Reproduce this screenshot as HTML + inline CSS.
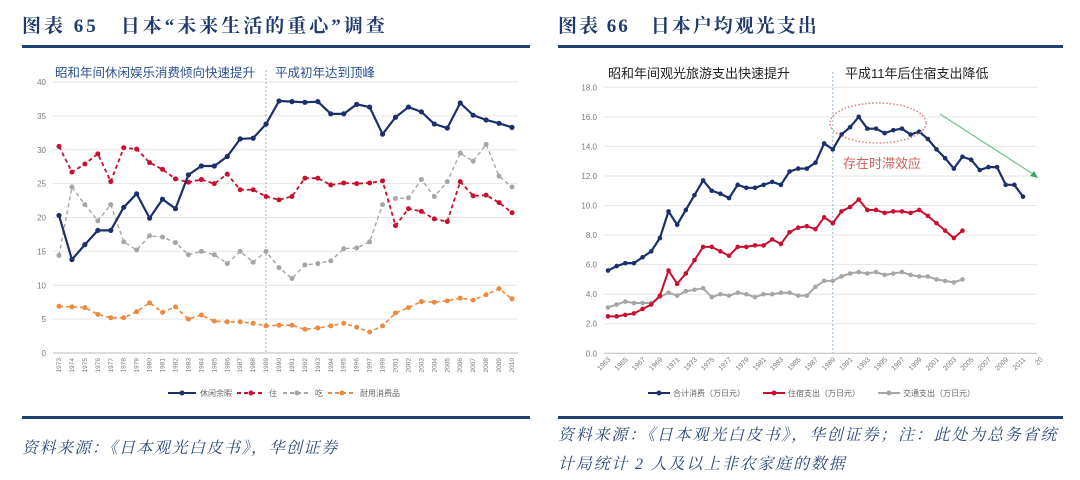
<!DOCTYPE html>
<html><head><meta charset="utf-8"><style>
body{margin:0;width:1080px;height:480px;background:#fff;overflow:hidden;font-family:"Liberation Serif","Noto Serif CJK SC",serif}
svg{position:absolute;left:0;top:0}
</style></head><body>
<svg id="s" width="1080" height="480" xmlns="http://www.w3.org/2000/svg">
<text x="22" y="32" font-size="19" font-weight="bold" fill="#1f3a6e" letter-spacing="3" font-family="Liberation Serif,Noto Serif CJK SC,serif">图表 65　日本“未来生活的重心”调查</text>
<text x="558" y="32" font-size="19" font-weight="bold" fill="#1f3a6e" letter-spacing="2" font-family="Liberation Serif,Noto Serif CJK SC,serif">图表 66　日本户均观光支出</text>
<rect x="22" y="45" width="508" height="3" fill="#1f3f74"/>
<rect x="558" y="45" width="505" height="3" fill="#1f3f74"/>
<rect x="22" y="416" width="508" height="3" fill="#1f3f74"/>
<rect x="558" y="416" width="505" height="3" fill="#1f3f74"/>
<text x="22" y="453" font-size="16" font-style="italic" fill="#2c4a7c" letter-spacing="1.5">资料来源：《日本观光白皮书》，华创证券</text>
<text x="558" y="440" font-size="16" font-style="italic" fill="#2c4a7c" letter-spacing="1.8">资料来源：《日本观光白皮书》，华创证券；注：此处为总务省统</text>
<text x="558" y="469" font-size="16" font-style="italic" fill="#2c4a7c" letter-spacing="1.8">计局统计 2 人及以上非农家庭的数据</text>
<g id="L"></g>
<g id="R"></g>
</svg>
<script>
const leftYears=["1973","1974","1975","1976","1977","1978","1979","1980","1981","1982","1983","1984","1985","1986","1987","1988","1989","1990","1991","1992","1993","1994","1995","1996","1997","1999","2001","2002","2003","2004","2005","2006","2007","2008","2009","2010"];
const leisure=[20.3,13.8,16,18.1,18.1,21.5,23.5,19.9,22.7,21.3,26.3,27.6,27.6,29,31.6,31.7,33.8,37.2,37.1,37,37.1,35.3,35.3,36.7,36.3,32.3,34.8,36.3,35.6,33.8,33.2,36.9,35.1,34.4,33.9,33.3];
const housing=[30.5,26.7,27.9,29.4,25.3,30.3,30.1,28.1,27.1,25.7,25.2,25.6,25,26.4,24.1,24.1,23.1,22.6,23.1,25.8,25.8,24.8,25.1,25,25.1,25.4,18.8,21.3,20.9,19.8,19.4,25.3,23.2,23.3,22.2,20.7];
const food=[14.4,24.5,21.9,19.5,21.9,16.4,15.2,17.3,17.1,16.3,14.5,15,14.5,13.2,15,13.4,15,12.6,11,13,13.2,13.6,15.4,15.5,16.4,21.9,22.8,22.9,25.6,23.1,25.3,29.5,28.3,30.8,26.1,24.5];
const durables=[6.9,6.8,6.7,5.7,5.2,5.2,6.1,7.4,6,6.8,5,5.6,4.7,4.6,4.6,4.4,4,4.1,4.1,3.5,3.7,4,4.4,3.8,3.1,4,5.9,6.7,7.6,7.5,7.7,8.1,7.8,8.6,9.5,8];
const leftTicks=[0,5,10,15,20,25,30,35,40];
const rightStart=1963;
const total=[5.6,5.9,6.1,6.1,6.5,6.9,7.8,9.6,8.7,9.7,10.7,11.7,11.0,10.8,10.5,11.4,11.2,11.2,11.4,11.6,11.4,12.3,12.5,12.5,12.9,14.2,13.8,14.8,15.3,16.0,15.2,15.2,14.9,15.1,15.2,14.8,15.0,14.5,13.8,13.2,12.5,13.3,13.1,12.4,12.6,12.6,11.4,11.4,10.6];
const lodging=[2.5,2.5,2.6,2.7,3.0,3.3,3.9,5.6,4.7,5.4,6.3,7.2,7.2,6.9,6.6,7.2,7.2,7.3,7.3,7.7,7.4,8.2,8.5,8.6,8.4,9.2,8.8,9.6,9.9,10.4,9.7,9.7,9.5,9.6,9.6,9.5,9.7,9.3,8.8,8.3,7.8,8.3];
const transport=[3.1,3.3,3.5,3.4,3.4,3.4,3.8,4.1,3.9,4.2,4.3,4.4,3.8,4.0,3.9,4.1,4.0,3.8,4.0,4.0,4.1,4.1,3.9,3.9,4.5,4.9,4.9,5.2,5.4,5.5,5.4,5.5,5.3,5.4,5.5,5.3,5.2,5.2,5.0,4.9,4.8,5.0];
const rightTicks=[0,2,4,6,8,10,12,14,16,18];

const NS="http://www.w3.org/2000/svg";
function mk(p,t,a){const e=document.createElementNS(NS,t);for(const k in a)e.setAttribute(k,a[k]);p.appendChild(e);return e;}
const SF="Liberation Sans, Noto Sans CJK SC, sans-serif";

// LEFT
const L=document.getElementById('L');
const lx=i=>59+i*(512-59)/(leftYears.length-1);
const ly=v=>353-v*(353-82)/40;
leftTicks.forEach(t=>{
 const g=mk(L,'line',{x1:53,x2:518,y1:ly(t),y2:ly(t),stroke:t?'#e6e6e6':'#bbb','stroke-width':1});
 
 const tx=mk(L,'text',{x:46,y:ly(t)+3,'font-size':8,fill:'#777','text-anchor':'end','font-family':SF});tx.textContent=t;
 
});
leftYears.forEach((y,i)=>{
 const tx=mk(L,'text',{x:0,y:0,'font-size':6.5,fill:'#777','text-anchor':'end','font-family':SF,transform:`translate(${lx(i)+2},358) rotate(-90)`});tx.textContent=y;
 
});
const ld=mk(L,'line',{x1:lx(16),x2:lx(16),y1:70,y2:353,stroke:'#aab','stroke-dasharray':'2,2'});

function series(p,xf,yf,d,col,dash,w,r,name){
 const pl=mk(p,'polyline',{points:d.map((v,i)=>xf(i)+','+yf(v)).join(' '),fill:'none',stroke:col,'stroke-width':w,'stroke-dasharray':dash});
 
 d.forEach((v,i)=>{const c=mk(p,'circle',{cx:xf(i),cy:yf(v),r:r,fill:col});
 });
}
series(L,lx,ly,durables,'#ed8a3f','4,3',1.6,2.5,'durables');
series(L,lx,ly,food,'#a6a6a6','4,3',1.4,2.5,'food');
series(L,lx,ly,housing,'#c8102e','4,3',1.8,2.5,'housing');
series(L,lx,ly,leisure,'#1b2f6b','',2.2,2.6,'leisure');
[['昭和年间休闲娱乐消费倾向快速提升',55],['平成初年达到顶峰',275]].forEach(([s,x])=>{
 const t=mk(L,'text',{x:x,y:77,'font-size':12.5,fill:'#2f4f8f','font-family':SF});t.textContent=s;
 });
[['休闲余暇','#1b2f6b','',168],['住','#c8102e','4,3',237],['吃','#a6a6a6','4,3',283],['耐用消费品','#ed8a3f','4,3',328]].forEach(([s,c,d,x])=>{
 const l=mk(L,'line',{x1:x,x2:x+28,y1:393,y2:393,stroke:c,'stroke-width':2,'stroke-dasharray':d});
 
 mk(L,'circle',{cx:x+14,cy:393,r:2.5,fill:c});
 const t=mk(L,'text',{x:x+32,y:396,'font-size':8,fill:'#666','font-family':SF});t.textContent=s;
 });

// RIGHT
const R=document.getElementById('R');
const step=(1023-608)/48;
const rx=i=>608+i*step;
const ry=v=>353.3-v*(353.3-87.3)/18;
rightTicks.forEach(t=>{
 const g=mk(R,'line',{x1:604,x2:1037,y1:ry(t),y2:ry(t),stroke:t?'#e6e6e6':'#bbb'});
 
 const tx=mk(R,'text',{x:597,y:ry(t)+3,'font-size':8,fill:'#777','text-anchor':'end','font-family':SF});tx.textContent=t.toFixed(1);
 
});
for(let i=0;i<=50;i+=2){
 const lab=i==50?'20':String(rightStart+i);
 const tx=mk(R,'text',{x:0,y:0,'font-size':7,fill:'#777','text-anchor':'end','font-family':SF,transform:`translate(${rx(i)+3},360) rotate(-45)`});tx.textContent=lab;
 
}
const rd=mk(R,'line',{x1:rx(26),x2:rx(26),y1:72,y2:353,stroke:'#9bc','stroke-dasharray':'2,2'});

series(R,rx,ry,transport,'#a6a6a6','',2,2.3,'transport');
series(R,rx,ry,lodging,'#c8102e','',2,2.3,'lodging');
series(R,rx,ry,total,'#1b2f6b','',2.2,2.3,'total');
const el=mk(R,'ellipse',{cx:878,cy:123,rx:48,ry:20,fill:'none',stroke:'#e07a7a','stroke-dasharray':'1.5,2','stroke-width':1.5});

const ar=mk(R,'line',{x1:940,y1:114,x2:1036,y2:176,stroke:'#6cc38a','stroke-width':1.2});

mk(R,'polygon',{points:'1038,178 1030,176 1034,171',fill:'#3aa860'});
const lt=mk(R,'text',{x:843,y:168,'font-size':13,fill:'#d0605a','font-family':SF});lt.textContent='存在时滞效应';

[['昭和年间观光旅游支出快速提升',608],['平成11年后住宿支出降低',845]].forEach(([s,x])=>{
 const t=mk(R,'text',{x:x,y:78,'font-size':13,fill:'#222','font-family':SF});t.textContent=s;
 });
[['合计消费（万日元）','#1b2f6b',648],['住宿支出（万日元）','#c8102e',763],['交通支出（万日元）','#a6a6a6',878]].forEach(([s,c,x])=>{
 const l=mk(R,'line',{x1:x,x2:x+22,y1:393,y2:393,stroke:c,'stroke-width':2});
 
 mk(R,'circle',{cx:x+11,cy:393,r:2.5,fill:c});
 const t=mk(R,'text',{x:x+25,y:396,'font-size':8,fill:'#666','font-family':SF});t.textContent=s;
 });
</script>
</body></html>
